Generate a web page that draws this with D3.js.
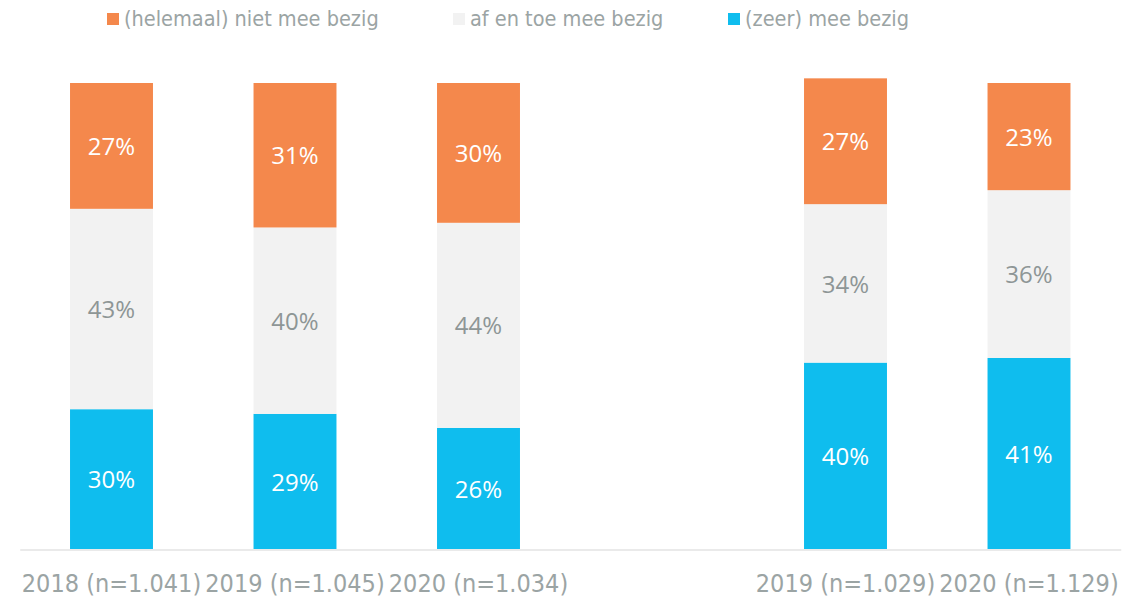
<!DOCTYPE html>
<html>
<head>
<meta charset="utf-8">
<script src="https://cdn.jsdelivr.net/npm/d3@7"></script>
<style>
  body { margin: 0; background: #fff; }
  svg { display: block; }
</style>
</head>
<body>
<div id="chart"></div>
<script>
// categories, the empty one is the gap between the two groups
var categories = ["2018 (n=1.041)", "2019 (n=1.045)", "2020 (n=1.034)", "", "2019 (n=1.029)", "2020 (n=1.129)"];
var zeerMee  = [30, 29, 26, null, 40, 41];   // (zeer) mee bezig
var afEnToe  = [43, 40, 44, null, 34, 36];   // af en toe mee bezig
var nietMee  = [27, 31, 30, null, 27, 23];   // (helemaal) niet mee bezig

var seriesNames = ["(zeer) mee bezig", "af en toe mee bezig", "(helemaal) niet mee bezig"];
var legendOrder = ["(helemaal) niet mee bezig", "af en toe mee bezig", "(zeer) mee bezig"];
var colors = {"(zeer) mee bezig": "#0fbdee", "af en toe mee bezig": "#f2f2f2", "(helemaal) niet mee bezig": "#f4884c"};
var labelColors = {"(zeer) mee bezig": "#ffffff", "af en toe mee bezig": "#8e9696", "(helemaal) niet mee bezig": "#ffffff"};

var width = 1134, height = 597;
var baseY = 549, topY = 83;

var rows = categories.map(function (c, i) {
  return {cat: c, "(zeer) mee bezig": zeerMee[i], "af en toe mee bezig": afEnToe[i], "(helemaal) niet mee bezig": nietMee[i]};
});

var stacked = d3.stack().keys(seriesNames).value(function (d, k) { return d[k] || 0; })(rows);

var x = d3.scaleBand().domain(categories).range([19.75, 1120.75]).paddingInner(0.548).paddingOuter(0.274);
var y = d3.scaleLinear().domain([0, 100]).range([baseY, topY]);

var svg = d3.select("#chart").append("svg")
  .attr("width", width)
  .attr("height", height);

// bars
var layers = svg.selectAll("g.layer")
  .data(stacked)
  .enter()
  .append("g")
  .attr("class", "layer")
  .attr("fill", function (d) { return colors[d.key]; });

layers.selectAll("rect")
  .data(function (d) { return d.filter(function (p) { return p.data.cat !== ""; }); })
  .enter()
  .append("rect")
  .attr("x", function (d) { return x(d.data.cat); })
  .attr("width", x.bandwidth())
  .attr("y", function (d) { return y(d[1]); })
  .attr("height", function (d) { return y(d[0]) - y(d[1]); });

// value labels
stacked.forEach(function (layer) {
  svg.append("g").selectAll("text")
    .data(layer.filter(function (p) { return p.data.cat !== ""; }))
    .enter()
    .append("text")
    .attr("x", function (d) { return x(d.data.cat) + x.bandwidth() / 2; })
    .attr("y", function (d) { return (y(d[0]) + y(d[1])) / 2; })
    .attr("dy", "0.38em")
    .attr("text-anchor", "middle")
    .style("font-family", "'Open Sans', sans-serif")
    .style("font-size", "24px")
    .attr("fill", labelColors[layer.key])
    .text(function (d) { return d.data[layer.key] + "%"; });
});

// x axis
var xAxis = svg.append("g")
  .attr("transform", "translate(0," + (baseY + 0.5) + ")")
  .call(d3.axisBottom(x).tickSize(0).tickSizeOuter(0).tickPadding(0));
xAxis.select(".domain").attr("stroke", "#e3e3e3").attr("stroke-width", 1.5);
xAxis.selectAll(".tick text")
  .attr("y", 42)
  .attr("dy", 0)
  .attr("fill", "#9ba4a4")
  .style("font-family", "'DejaVu Sans Condensed', sans-serif")
  .style("font-size", "25px");

// legend
var legendX = [107, 453, 728];
var legend = svg.append("g").selectAll("g")
  .data(legendOrder)
  .enter()
  .append("g")
  .attr("transform", function (d, i) { return "translate(" + legendX[i] + ",13)"; });
legend.append("rect")
  .attr("width", 12).attr("height", 12)
  .attr("fill", function (d) { return colors[d]; });
legend.append("text")
  .attr("x", 17)
  .attr("y", 13)
  .attr("fill", "#9ba4a4")
  .style("font-family", "'DejaVu Sans Condensed', sans-serif")
  .style("font-size", "21.5px")
  .text(function (d) { return d; });
</script>
</body>
</html>
